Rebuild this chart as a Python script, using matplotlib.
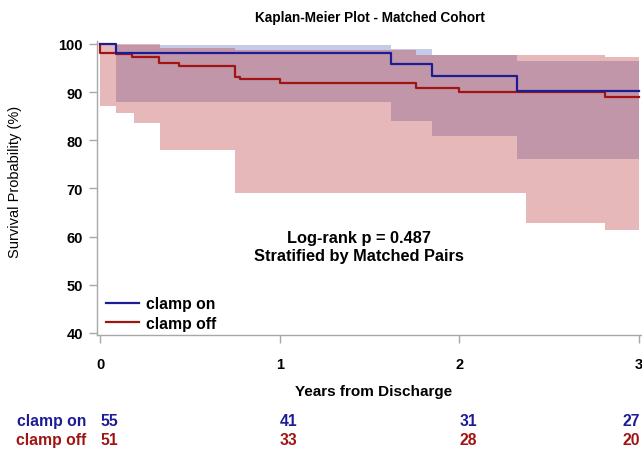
import matplotlib
matplotlib.use("Agg")
import matplotlib.pyplot as plt
import matplotlib.transforms as mtransforms

plt.rcParams['font.family'] = ['Liberation Sans', 'DejaVu Sans']

# ---------------- data ----------------
groups = ["clamp on", "clamp off"]

# Kaplan-Meier step curves (survival %)
time_on = [0, 0.09, 1.62, 1.85, 2.32, 3.0]
surv_on = [100, 98.2, 95.8, 93.3, 90.3, 90.3]

time_off = [0, 0, 0.09, 0.18, 0.33, 0.44, 0.75, 0.78, 1.0, 1.76, 2.0, 2.81, 3.0]
surv_off = [100, 98.1, 97.9, 97.4, 96.0, 95.4, 93.2, 92.7, 92.0, 90.8, 90.1, 88.9, 88.9]

# confidence bands
band_time_on = [0.09, 1.62, 1.85, 2.32, 3.0]
band_lo_on = [87.9, 84.1, 80.8, 76.1, 76.1]
band_hi_on = [99.8, 99.0, 97.8, 96.5, 96.5]

band_time_off = [0, 0.09, 0.19, 0.335, 0.75, 1.76, 2.37, 2.81, 3.0]
band_lo_off = [87.2, 85.7, 83.5, 78.0, 69.0, 69.0, 62.9, 61.3, 61.3]
band_hi_off = [100, 100, 100, 99.2, 98.8, 97.8, 97.8, 97.2, 97.2]

# numbers at risk
risk_times = [0, 1, 2, 3]
risk_on = [55, 41, 31, 27]
risk_off = [51, 33, 28, 20]

yticks = [40, 50, 60, 70, 80, 90, 100]
xticks = [0, 1, 2, 3]

title = "Kaplan-Meier Plot - Matched Cohort"
xlabel = "Years from Discharge"
ylabel = "Survival Probability (%)"
annot = "Log-rank p = 0.487\nStratified by Matched Pairs"

# ---------------- style ----------------
c_on = "#1c1c96"
c_off = "#a01414"
band_on_color = "#c4cbe6"
band_off_color = (189/255, 52/255, 55/255)
axis_gray = "#a8a8a8"

W, H = 642, 452
fig = plt.figure(figsize=(W/100, H/100), dpi=100)
ax = fig.add_axes([97/W, (H-336)/H, 544/W, 294/H])

ax.fill_between(band_time_on, band_lo_on, band_hi_on, step='post',
                color=band_on_color, linewidth=0, zorder=1)
ax.fill_between(band_time_off, band_lo_off, band_hi_off, step='post',
                color=band_off_color, alpha=0.35, linewidth=0, zorder=2)

ax.plot(time_off, surv_off, drawstyle='steps-post', color=c_off, lw=1.6,
        zorder=3, label=groups[1])
ax.plot(time_on, surv_on, drawstyle='steps-post', color=c_on, lw=1.6,
        zorder=4, label=groups[0])

ax.set_xlim(-0.0167, 3.011)
ax.set_ylim(39.58, 100.62)
ax.set_xticks(xticks)
ax.set_yticks(yticks)

for s in ['top', 'right']:
    ax.spines[s].set_visible(False)
for s in ['left', 'bottom']:
    ax.spines[s].set_color(axis_gray)
    ax.spines[s].set_linewidth(1.0)

ax.tick_params(axis='both', direction='out', length=6, width=1,
               color=axis_gray, labelcolor='black', labelsize=10.5)
ax.tick_params(axis='x', pad=10)
ax.tick_params(axis='y', pad=4)
for lab in ax.get_xticklabels() + ax.get_yticklabels():
    lab.set_fontweight('bold')

# legend (clamp on first)
h, l = ax.get_legend_handles_labels()
leg = ax.legend(h[::-1], l[::-1], loc='lower left', frameon=False,
                bbox_to_anchor=(-0.009, -0.034), handlelength=2.1,
                handletextpad=0.45, labelspacing=0.3,
                prop={'weight': 'bold', 'size': 11.3})

ax.text(1.44, 58.0, annot, ha='center', va='center', fontsize=11.8,
        fontweight='bold', linespacing=1.25)

fig.text(370/W, (H-18)/H, title, ha='center', va='center', fontsize=9.8,
         fontweight='bold')
fig.text(374/W, (H-392)/H, xlabel, ha='center', va='center', fontsize=11.0,
         fontweight='bold')
fig.text(15/W, (H-182)/H, ylabel, ha='center', va='center', fontsize=10.5,
         rotation=90)

# risk table
trans = mtransforms.blended_transform_factory(ax.transData, fig.transFigure)
row_y = [(H-422)/H, (H-441)/H]
for name, vals, col, yy in zip(groups, [risk_on, risk_off], [c_on, c_off], row_y):
    fig.text(86/W, yy, name, ha='right', va='center', fontsize=11.3,
             fontweight='bold', color=col)
    for t, v in zip(risk_times, vals):
        ha = 'right' if t == risk_times[-1] else 'center'
        xx = 3.008 if t == risk_times[-1] else t + 0.05
        ax.text(xx, yy, str(v), transform=trans, ha=ha, va='center',
                fontsize=11.3, fontweight='bold', color=col, clip_on=False)

fig.savefig("out.png", dpi=100)
